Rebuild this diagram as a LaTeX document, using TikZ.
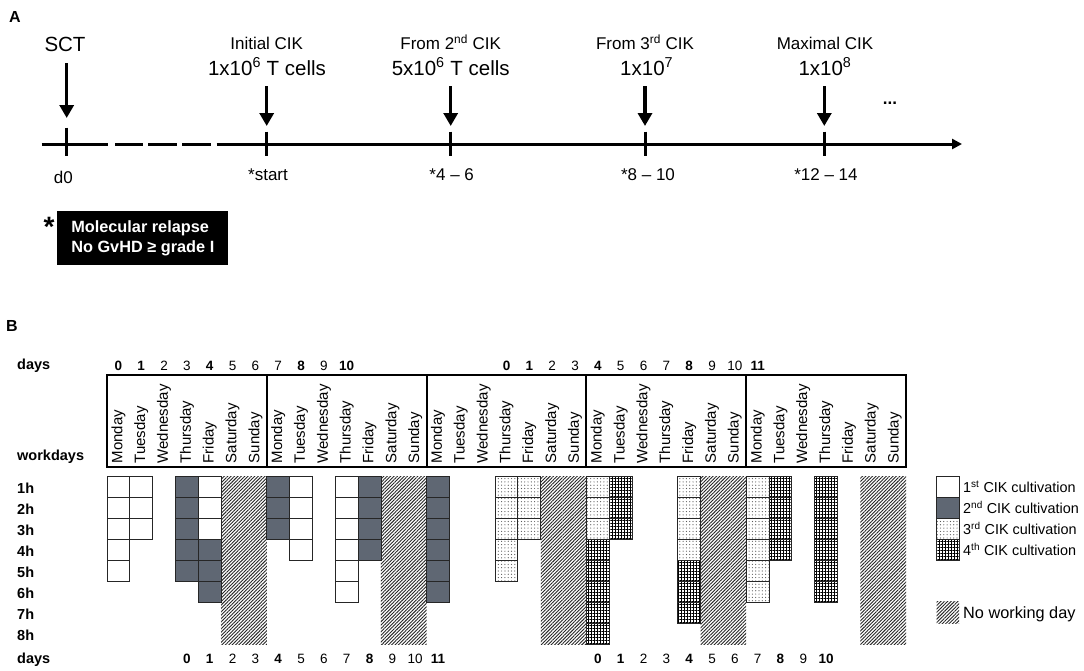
\documentclass[tikz,border=0pt]{standalone}
\usepackage{fontspec}
\setmainfont{Liberation Sans}
\usetikzlibrary{patterns.meta,arrows.meta}
\definecolor{darkcell}{RGB}{95,103,115}
\newcommand\cellrun[4]{\foreach \rr in {#3,...,#4}{\draw[#1] ({107+#2*22.83},{476+(\rr-1)*21}) rectangle ({107+(#2+1)*22.83},{476+\rr*21});}}
\newcommand\noworkcol[1]{\fill[nowork] ({107+#1*22.83},476) rectangle ({107+(#1+2)*22.83},644);}
\begin{document}
\begin{tikzpicture}[x=1pt,y=-1pt,
  every node/.style={inner sep=0pt},
  lab/.style={font=\fontsize{17}{20}\selectfont, anchor=base},
  big/.style={font=\fontsize{20.5}{24}\selectfont, anchor=base},
  tl/.style={line width=3pt},
  tickmark/.style={line width=3pt},
  downarr/.style={line width=3.3pt,-{Triangle[length=13pt,width=14pt]}},
  cellbox/.style={draw=black!85, line width=0.9pt},
  c1/.style={cellbox, fill=white},
  c2/.style={cellbox, fill=darkcell},
  c3/.style={cellbox, pattern={Dots[distance=3.3pt,radius=0.6pt]}, pattern color=black!65},
  c4/.style={cellbox, pattern={Hatch[angle=0,distance=3pt,line width=0.85pt]}, pattern color=black},
  nowork/.style={pattern={Lines[angle=45,distance=2.4pt,line width=0.9pt]}, pattern color=black!85},
  daynum/.style={font=\fontsize{13.5}{16}\selectfont, anchor=base},
  daynumb/.style={font=\fontsize{13.5}{16}\selectfont\bfseries, anchor=base},
  wday/.style={font=\fontsize{15}{17}\selectfont, rotate=90, anchor=west},
  rowlab/.style={font=\fontsize{14.5}{17}\selectfont\bfseries, anchor=base west},
  leg/.style={font=\fontsize{14.4}{17}\selectfont, anchor=base west},
  hdr/.style={line width=1.5pt}
]
\fill[white] (0,0) rectangle (1084,670);
\useasboundingbox (0,0) rectangle (1084,670);

% ---------- Panel A ----------
\node[font=\fontsize{16}{19}\selectfont\bfseries, anchor=base] (A) at (15,22.7) {A};

\coordinate (t0) at (41.7,144);
\coordinate (t1) at (108.3,144);
\coordinate (d1a) at (115,144);   \coordinate (d1b) at (143.3,144);
\coordinate (d2a) at (148.3,144); \coordinate (d2b) at (176.7,144);
\coordinate (d3a) at (182.3,144); \coordinate (d3b) at (210.7,144);
\coordinate (t2) at (216.7,144);
\coordinate (tend) at (962,144);
\draw[tl] (t0) -- (t1);
\draw[tl] (d1a) -- (d1b);
\draw[tl] (d2a) -- (d2b);
\draw[tl] (d3a) -- (d3b);
\draw[tl,-{Triangle[length=10pt,width=10pt]}] (t2) -- (tend);

% ticks
\coordinate (k0a) at (66.7,127.7); \coordinate (k0b) at (66.7,155.7);
\draw[tickmark] (k0a) -- (k0b);
\foreach \xx/\nm in {266.7/k1,450.7/k2,645/k3,824.3/k4}{
  \coordinate (\nm a) at (\xx,131.7); \coordinate (\nm b) at (\xx,155.7);
  \draw[tickmark] (\nm a) -- (\nm b);
}

% labels above
\node[big] (sct) at (65,51.7) {SCT};
\node[lab] (l1) at (266.7,49.3) {Initial CIK};
\node[big] (n1) at (267,75) {1x10\textsuperscript{6} T cells};
\node[lab] (l2) at (450.7,49.3) {From 2\textsuperscript{nd} CIK};
\node[big] (n2) at (450.7,75) {5x10\textsuperscript{6} T cells};
\node[lab] (l3) at (645,49.3) {From 3\textsuperscript{rd} CIK};
\node[big] (n3) at (646.7,75) {1x10\textsuperscript{7}};
\node[lab] (l4) at (825,49.3) {Maximal CIK};
\node[big] (n4) at (825,75) {1x10\textsuperscript{8}};
\node[font=\fontsize{17}{20}\selectfont\bfseries, anchor=base] (dots) at (890,104) {...};

% down arrows
\coordinate (a0s) at (66.7,63);  \coordinate (a0e) at (66.7,118);
\draw[downarr] (a0s) -- (a0e);
\foreach \xx/\nm in {266.7/a1,450.7/a2,645/a3,824.3/a4}{
  \coordinate (\nm s) at (\xx,86); \coordinate (\nm e) at (\xx,126);
  \draw[downarr] (\nm s) -- (\nm e);
}

% labels below
\node[lab] (b0) at (63.3,183.3) {d0};
\node[lab] (b1) at (268,180.7) {*start};
\node[lab] (b2) at (451.7,180.7) {*4 – 6};
\node[lab] (b3) at (648,180.7) {*8 – 10};
\node[lab] (b4) at (826,180.7) {*12 – 14};

% criteria box
\node[font=\fontsize{28}{30}\selectfont\bfseries, anchor=base] (ast) at (49,236) {*};
\node[fill=black, text=white, minimum width=171pt, minimum height=54.3pt,
      align=left, font=\fontsize{16.3}{20}\selectfont\bfseries] (mol) at (142.8,237.85)
      {Molecular relapse\\No GvHD ≥ grade I};

% ---------- Panel B ----------
\node[font=\fontsize{16}{19}\selectfont\bfseries, anchor=base] (B) at (12,331) {B};

\node[rowlab] (daysT) at (17,369.5) {days};
\node[rowlab] (workd) at (17,460.7) {workdays};
\node[rowlab] (daysB) at (17,663) {days};
\foreach \k in {1,...,8}{
  \node[rowlab] (h\k) at (17,{493.3+(\k-1)*21}) {\k h};
}

% header box
\draw[hdr] (107,375) rectangle (906,467);
\foreach \xx in {267,427,586,746}{ \draw[hdr] (\xx,375) -- (\xx,467); }
\foreach \w in {0,...,4}{
  \foreach \d/\nm in {0/Monday,1/Tuesday,2/Wednesday,3/Thursday,4/Friday,5/Saturday,6/Sunday}{
    \node[wday] at ({107+(7*\w+\d+0.5)*22.83},463.5) {\nm};
  }
}

% day numbers top
\foreach \c/\t/\s in {0/0/daynumb,1/1/daynumb,2/2/daynum,3/3/daynum,4/4/daynumb,5/5/daynum,6/6/daynum,7/7/daynum,8/8/daynumb,9/9/daynum,10/10/daynumb,
  17/0/daynumb,18/1/daynumb,19/2/daynum,20/3/daynum,21/4/daynumb,22/5/daynum,23/6/daynum,24/7/daynum,25/8/daynumb,26/9/daynum,27/10/daynum,28/11/daynumb}{
  \node[style=\s] at ({107+(\c+0.5)*22.83},370) {\t};
}
% day numbers bottom
\foreach \c/\t/\s in {3/0/daynumb,4/1/daynumb,5/2/daynum,6/3/daynum,7/4/daynumb,8/5/daynum,9/6/daynum,10/7/daynum,11/8/daynumb,12/9/daynum,13/10/daynum,14/11/daynumb,
  21/0/daynumb,22/1/daynumb,23/2/daynum,24/3/daynum,25/4/daynumb,26/5/daynum,27/6/daynum,28/7/daynum,29/8/daynumb,30/9/daynum,31/10/daynumb}{
  \node[style=\s] at ({107+(\c+0.5)*22.83},663) {\t};
}

% no working days
\noworkcol{5}
\noworkcol{12}
\noworkcol{19}
\noworkcol{26}
\noworkcol{33}

% cells
\cellrun{c1}{0}{1}{5}
\cellrun{c1}{1}{1}{3}
\cellrun{c2}{3}{1}{5}
\cellrun{c1}{4}{1}{3}
\cellrun{c2}{4}{4}{6}
\cellrun{c2}{7}{1}{3}
\cellrun{c1}{8}{1}{4}
\cellrun{c1}{10}{1}{6}
\cellrun{c2}{11}{1}{4}
\cellrun{c2}{14}{1}{6}
\cellrun{c3}{17}{1}{5}
\cellrun{c3}{18}{1}{3}
\cellrun{c3}{21}{1}{3}
\cellrun{c4}{21}{4}{8}
\cellrun{c4}{22}{1}{3}
\cellrun{c3}{25}{1}{4}
\cellrun{c4}{25}{5}{7}
\cellrun{c3}{28}{1}{6}
\cellrun{c4}{29}{1}{4}
\cellrun{c4}{31}{1}{6}

% legend
\draw[c1] (936.7,476) rectangle (959,497);
\draw[c2] (936.7,497) rectangle (959,518);
\draw[c3] (936.7,518) rectangle (959,539);
\draw[c4] (936.7,539) rectangle (959,560);
\fill[nowork] (936.7,601.7) rectangle (959,623);
\node[leg] (g1) at (963,492.5) {1\textsuperscript{st} CIK cultivation};
\node[leg] (g2) at (963,513.5) {2\textsuperscript{nd} CIK cultivation};
\node[leg] (g3) at (963,534.5) {3\textsuperscript{rd} CIK cultivation};
\node[leg] (g4) at (963,555.5) {4\textsuperscript{th} CIK cultivation};
\node[font=\fontsize{16.3}{19}\selectfont, anchor=base west] (g5) at (963,618.3) {No working day};
\end{tikzpicture}
\end{document}
